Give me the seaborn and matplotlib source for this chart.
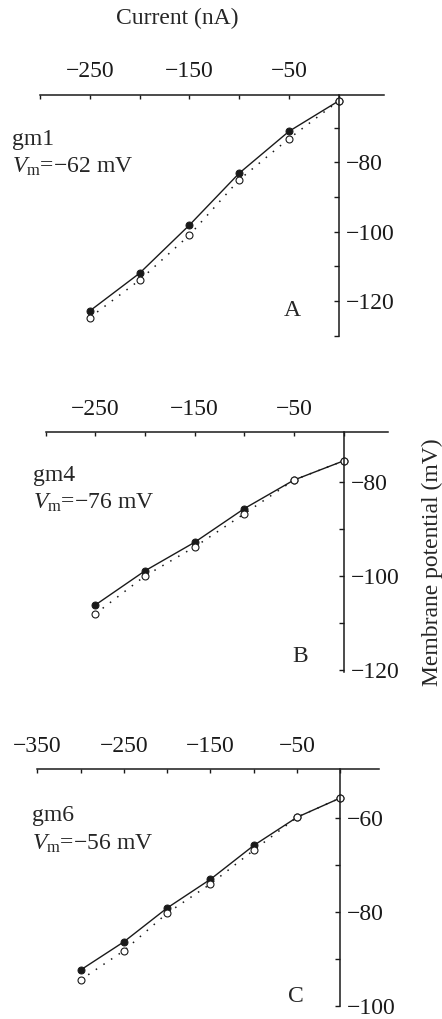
import seaborn as sns
import matplotlib.pyplot as plt
import numpy as np

# Current steps (nA) and membrane potential (mV)
current_ab = [-250, -200, -150, -100, -50, 0]
current_c = [-300, -250, -200, -150, -100, -50, 0]

gm1_filled = [-122.9, -112.0, -98.1, -83.1, -71.0, -62.2]
gm1_open = [-124.8, -114.0, -101.0, -85.0, -73.1, -62.2]

gm4_filled = [-106.2, -98.9, -92.8, -85.6, -79.5, -75.4]
gm4_open = [-108.1, -100.0, -93.8, -86.7, -79.5, -75.4]

gm6_filled = [-92.3, -86.3, -79.1, -73.0, -65.8, -59.8, -55.7]
gm6_open = [-94.4, -88.2, -80.2, -74.0, -66.8, -59.8, -55.7]

names = ["gm1", "gm4", "gm6"]
vm_labels = ["\u221262 mV", "\u221276 mV", "\u221256 mV"]
panel_letters = ["A", "B", "C"]

xticks_ab = [-300, -250, -200, -150, -100, -50, 0]
xlabels_ab = ["", "\u2212250", "", "\u2212150", "", "\u221250", ""]
xticks_c = [-350, -300, -250, -200, -150, -100, -50, 0]
xlabels_c = ["\u2212350", "", "\u2212250", "", "\u2212150", "", "\u221250", ""]

yticks_a = [-70, -80, -90, -100, -110, -120, -130]
ylabels_a = ["", "\u221280", "", "\u2212100", "", "\u2212120", ""]
yticks_b = [-80, -90, -100, -110, -120]
ylabels_b = ["\u221280", "", "\u2212100", "", "\u2212120"]
yticks_c = [-60, -70, -80, -90, -100]
ylabels_c = ["\u221260", "", "\u221280", "", "\u2212100"]

sns.set_theme(style="white")
plt.rcParams["font.family"] = ["Liberation Serif", "DejaVu Serif"]
plt.rcParams["mathtext.fontset"] = "custom"
plt.rcParams["mathtext.rm"] = "Liberation Serif"
plt.rcParams["mathtext.it"] = "Liberation Serif:italic"

W, H = 442, 1019
fig = plt.figure(figsize=(W / 100, H / 100), dpi=100)

# axes boxes in pixels: left, top, width, height
boxes = [(40, 95, 343.6, 240.5), (45.7, 432.3, 342.6, 239.6), (37.3, 769.3, 342.0, 236.9)]
xlims = [(-300, 45), (-300, 45), (-350, 45)]
ylims = [(-130, -60.5), (-120.5, -69.3), (-100, -49.6)]
xs = [current_ab, current_ab, current_c]
filled = [gm1_filled, gm4_filled, gm6_filled]
opened = [gm1_open, gm4_open, gm6_open]
xt = [(xticks_ab, xlabels_ab), (xticks_ab, xlabels_ab), (xticks_c, xlabels_c)]
yt = [(yticks_a, ylabels_a), (yticks_b, ylabels_b), (yticks_c, ylabels_c)]
name_pos = [(12, 140, 167), (33, 475, 503), (32, 816, 844)]
letter_pos = [(292, 310), (300, 657), (296, 997)]

fs = 17
for i in range(3):
    l, t, w, h = boxes[i]
    ax = fig.add_axes([l / W, 1 - (t + h) / H, w / W, h / H])
    ax.set_facecolor("none")

    sns.lineplot(x=xs[i], y=opened[i], ax=ax, color="k", lw=1.1,
                 linestyle=(0, (1, 5)), sort=False)
    sns.lineplot(x=xs[i], y=filled[i], ax=ax, color="k", lw=1.0, marker="o",
                 markersize=5, markerfacecolor="k", markeredgecolor="k", sort=False)
    sns.lineplot(x=xs[i], y=opened[i], ax=ax, color="k", lw=0, marker="o",
                 markersize=5, markerfacecolor="white", markeredgecolor="k",
                 markeredgewidth=0.8, sort=False)
    for ln in ax.lines:
        ln.set_clip_on(False)

    ax.set_xlim(*xlims[i])
    ax.set_ylim(*ylims[i])
    ax.spines["left"].set_visible(False)
    ax.spines["bottom"].set_visible(False)
    ax.spines["right"].set_position(("data", 0))
    for s in ("top", "right"):
        ax.spines[s].set_color("k")
        ax.spines[s].set_linewidth(1.1)

    ax.xaxis.tick_top()
    ax.yaxis.tick_right()
    ax.set_xticks(xt[i][0], xt[i][1])
    ax.set_yticks(yt[i][0], yt[i][1])
    ax.tick_params(axis="x", direction="in", length=3, width=1.0, pad=9,
                   labelsize=fs, colors="k")
    ax.tick_params(axis="y", direction="in", length=3.5, width=1.0, pad=5,
                   labelsize=fs, colors="k")
    ax.set_xlabel("")
    ax.set_ylabel("")

    nx, ny1, ny2 = name_pos[i]
    fig.text(nx / W, 1 - ny1 / H, names[i], fontsize=fs, va="center", ha="left")
    fig.text(nx / W, 1 - ny2 / H, r"$V_{\mathrm{m}}$=" + vm_labels[i],
             fontsize=fs, va="center", ha="left")
    lx, ly = letter_pos[i]
    fig.text(lx / W, 1 - ly / H, panel_letters[i], fontsize=fs, va="center", ha="center")

fig.text(177 / W, 1 - 18 / H, "Current (nA)", fontsize=fs, va="center", ha="center")
fig.text(432 / W, 1 - 562 / H, "Membrane potential (mV)", fontsize=fs,
         va="center", ha="center", rotation=90)

fig.savefig("out.png", dpi=100)
